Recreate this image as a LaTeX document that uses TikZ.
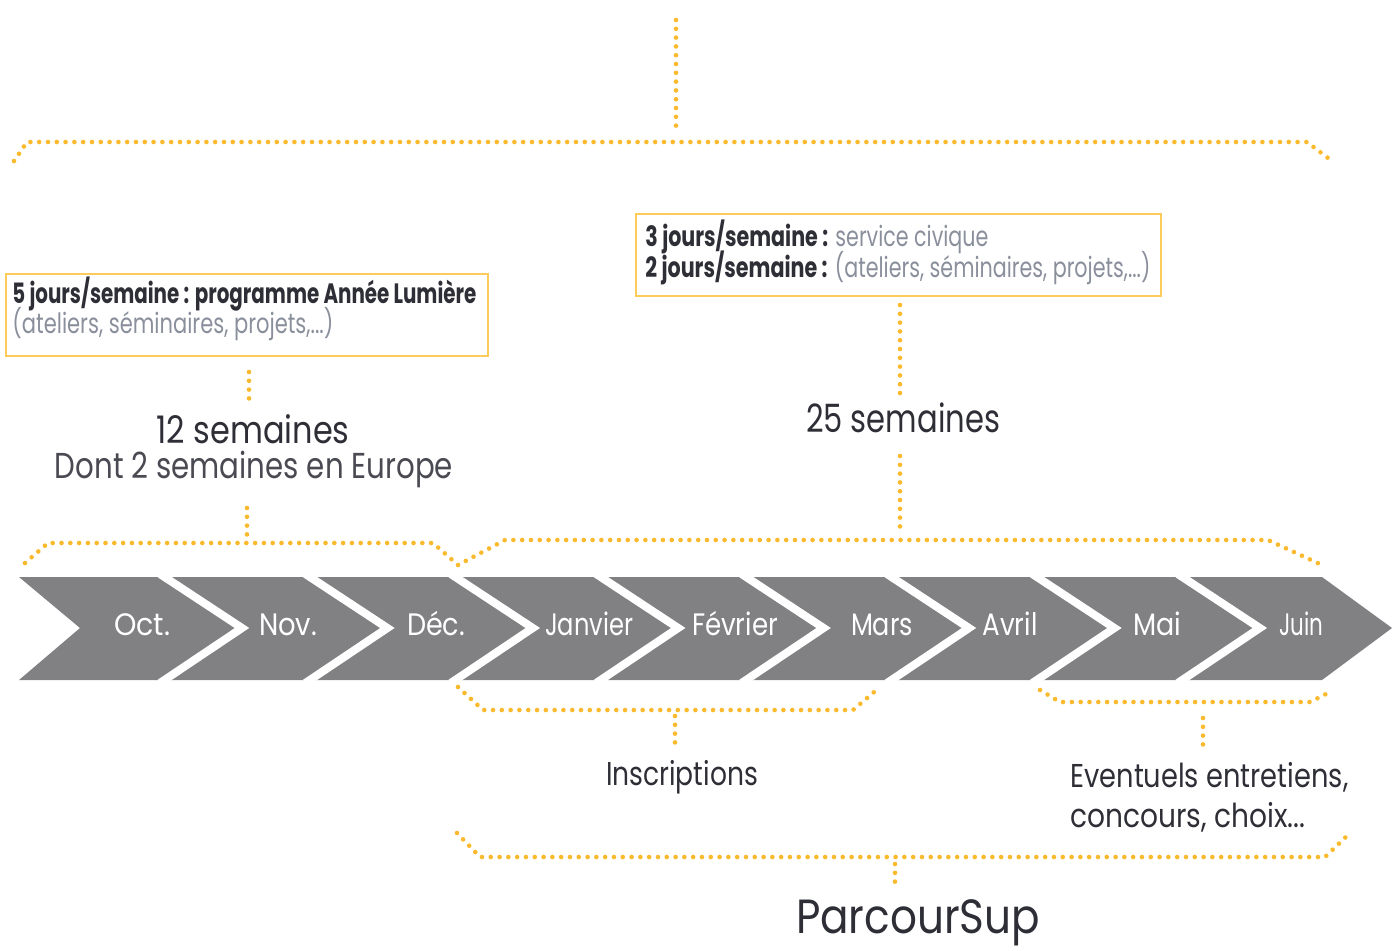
\documentclass[tikz,border=0pt]{standalone}
\usepackage{fontspec}
\setmainfont{Poppins}
\usepackage{graphicx}
\definecolor{dotc}{HTML}{FBB92D}
\definecolor{boxc}{HTML}{FDCB5A}
\definecolor{band}{HTML}{818184}
\definecolor{dark}{HTML}{2E2E36}
\definecolor{graytxt}{HTML}{8A8F9C}
\definecolor{midtxt}{HTML}{4A4A52}
\newcommand\hw[2]{\resizebox{#1}{\height}{#2}}
\begin{document}
\begin{tikzpicture}[x=0.5pt,y=-0.5pt,
  dots/.style={draw=dotc, line width=2.3pt, dash pattern=on 0pt off 4.4pt, line cap=round, line join=round},
  sepline/.style={draw=white, line width=4pt},
  month/.style={text=white, font=\fontsize{15.5}{18}\selectfont, inner sep=0pt, anchor=base},
  boxframe/.style={draw=boxc, line width=1.2pt, inner sep=0pt, anchor=north west},
  lbl/.style={inner sep=0pt, text=dark}]
\useasboundingbox (0,0) rectangle (1392,950);

% timeline band
\fill[band] (19,577) -- (1322,577) -- (1392,628) -- (1322,680) -- (19,680) -- (80,628) -- cycle;
\foreach \k in {0,...,7}{
  \draw[sepline] ({160+145.4*\k},574) -- ({242+145.4*\k},628) -- ({160+145.4*\k},683);
}
\node[month] (m1) at (142,635) {\hw{28pt}{Oct.}};
\node[month] (m2) at (288,635) {\hw{29pt}{Nov.}};
\node[month] (m3) at (436,635) {\hw{29pt}{Déc.}};
\node[month] (m4) at (589,635) {\hw{44pt}{Janvier}};
\node[month] (m5) at (735,635) {\hw{43pt}{Février}};
\node[month] (m6) at (882,635) {\hw{31pt}{Mars}};
\node[month] (m7) at (1010,635) {\hw{27.5pt}{Avril}};
\node[month] (m8) at (1157,635) {\hw{24pt}{Mai}};
\node[month] (m9) at (1301,635) {\hw{22pt}{Juin}};

% boxes
\node[boxframe, minimum width=241pt, minimum height=41pt] (b1) at (5,273) {};
\node[lbl, anchor=base west, font=\fontsize{14}{16}\selectfont\bfseries] (b1a) at (12,303) {\hw{232pt}{5 jours/semaine : programme Année Lumière}};
\node[lbl, anchor=base west, text=graytxt, font=\fontsize{14}{16}\selectfont] (b1b) at (12,333) {\hw{160.5pt}{(ateliers, séminaires, projets,...)}};

\node[boxframe, minimum width=262.5pt, minimum height=41pt] (b2) at (635,213) {};
\node[lbl, anchor=base west, font=\fontsize{14}{16}\selectfont] (b2a) at (645,246) {\hw{171.5pt}{\textbf{3 jours/semaine :} \textcolor{graytxt}{service civique}}};
\node[lbl, anchor=base west, font=\fontsize{14}{16}\selectfont] (b2b) at (645,277) {\hw{252.5pt}{\textbf{2 jours/semaine :} \textcolor{graytxt}{(ateliers, séminaires, projets,...)}}};

% labels
\node[lbl, anchor=base, font=\fontsize{19}{22}\selectfont] (w12) at (253,443) {\hw{96.5pt}{12 semaines}};
\node[lbl, anchor=base, text=midtxt, font=\fontsize{18}{22}\selectfont] (eu) at (254,478) {\hw{199pt}{Dont 2 semaines en Europe}};
\node[lbl, anchor=base, font=\fontsize{19.5}{22}\selectfont] (w25) at (903,432) {\hw{97pt}{25 semaines}};
\node[lbl, anchor=base, font=\fontsize{16.5}{20}\selectfont] (ins) at (682,785) {\hw{76pt}{Inscriptions}};
\node[lbl, anchor=base west, font=\fontsize{16.5}{20}\selectfont] (ev1) at (1070,787) {\hw{139pt}{Eventuels entretiens,}};
\node[lbl, anchor=base west, font=\fontsize{16.5}{20}\selectfont] (ev2) at (1070,827) {\hw{117.5pt}{concours, choix...}};
\node[lbl, anchor=base, font=\fontsize{24}{28}\selectfont] (ps) at (918,933) {\hw{122pt}{ParcourSup}};

% dotted braces and connectors
\draw[dots] (676,20) -- (676,128);
\draw[dots] (14,161) -- (27,142) -- (1307,142) -- (1328,158);

\draw[dots] (249,372) -- (249,400);
\draw[dots] (247,508) -- (247,538);
\draw[dots] (25,563) -- (48,543) -- (433,543) -- (458,565);

\draw[dots] (900,305) -- (900,393);
\draw[dots] (900,456) -- (900,532);
\draw[dots] (458,565) -- (505,540) -- (1268,540) -- (1322,565);

\draw[dots] (458,687) -- (483,710) -- (853,710) -- (880,687);
\draw[dots] (675,716) -- (675,745);

\draw[dots] (1040,690) -- (1060,702) -- (1310,702) -- (1330,692);
\draw[dots] (1203,718) -- (1203,748);

\draw[dots] (457,833) -- (480,857) -- (1325,857) -- (1350,833);
\draw[dots] (895,864) -- (895,890);
\end{tikzpicture}
\end{document}
